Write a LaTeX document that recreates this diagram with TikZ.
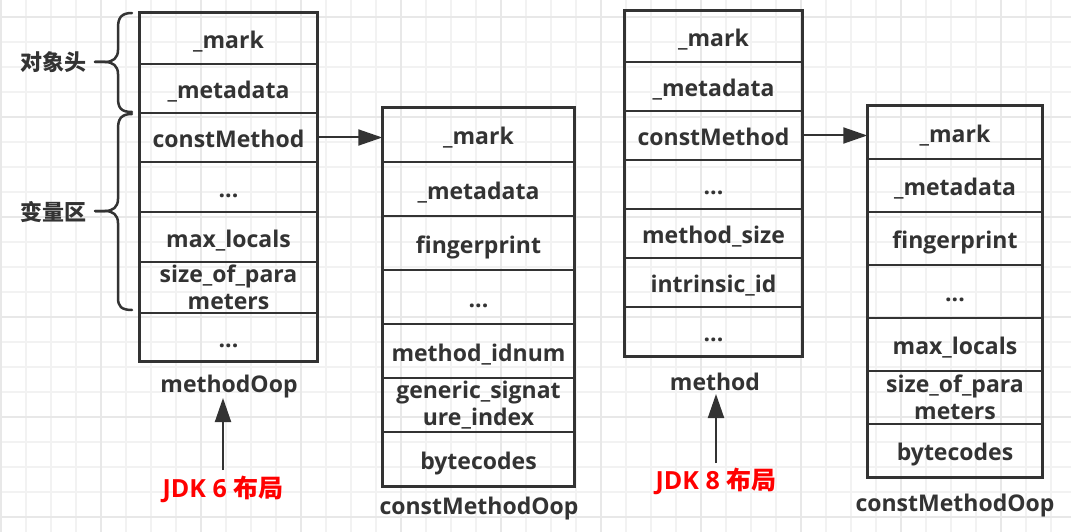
\documentclass[tikz,border=0pt]{standalone}
\usepackage{fontspec}
\setmainfont{Open Sans}
\newfontfamily\cjk{Noto Sans CJK SC}
\usetikzlibrary{arrows.meta}
\definecolor{ink}{HTML}{333333}
\definecolor{gridminor}{HTML}{F2F2F2}
\definecolor{gridmajor}{HTML}{E8E8E8}
\definecolor{jdkred}{HTML}{FF0000}
\newcommand\mkcell[6]{\node[cell, minimum width=#4pt, minimum height=#5pt] (#1) at (#2,#3) {#6};}
\newcommand\mkcellii[6]{\node[cellii, minimum width=#4pt, minimum height=#5pt] (#1) at (#2,#3) {#6};}
\begin{document}
\begin{tikzpicture}[x=1pt,y=-1pt,
  txt/.style={font=\bfseries\fontsize{23}{27}\selectfont, text=ink},
  cellii/.style={txt, draw=ink, line width=1.5pt, inner sep=0pt, align=center},
  cell/.style={cellii, text height=22pt, text depth=2pt},
  outer/.style={draw=ink, line width=2.8pt},
  lbl/.style={txt, inner sep=0pt, text height=22pt, text depth=2pt},
  jdk/.style={font=\bfseries\fontsize{25}{28}\selectfont, text=jdkred, inner sep=0pt},
  cjklbl/.style={font=\cjk\bfseries\fontsize{22}{26}\selectfont, text=ink, inner sep=0pt},
  arr/.style={draw=ink, line width=2pt, -{Triangle[length=24pt,width=16pt]}},
  brace/.style={draw=ink, line width=2.5pt, line cap=round, line join=round},
]
\useasboundingbox (0,0) rectangle (1071,532);
\fill[white] (0,0) rectangle (1071,532);
% grid
\foreach \x in {1,26,...,1051} \draw[gridminor, line width=1.3pt] (\x,0) -- (\x,532);
\foreach \y in {17,42,...,517} \draw[gridminor, line width=1.3pt] (0,\y) -- (1071,\y);
\foreach \x in {1,101,...,1001} \draw[gridmajor, line width=1.3pt] (\x,0) -- (\x,532);
\foreach \y in {17,117,...,517} \draw[gridmajor, line width=1.3pt] (0,\y) -- (1071,\y);

% box 1 : methodOop (JDK 6)
\mkcell{a1}{228.5}{38.5}{177}{51}{\_mark}
\mkcell{a2}{228.5}{88.5}{177}{49}{\_metadata}
\mkcell{a3}{228.5}{137.5}{177}{49}{constMethod}
\mkcell{a4}{228.5}{187}{177}{50}{...}
\mkcell{a5}{228.5}{237}{177}{50}{max\_locals}
\mkcellii{a6}{228.5}{287.5}{177}{51}{size\_of\_para\\meters}
\mkcell{a7}{228.5}{337}{177}{48}{...}
\draw[outer] (a1.north west) rectangle (a7.south east);

% box 2 : constMethodOop (JDK 6)
\mkcell{b1}{478.5}{135}{191}{54}{\_mark}
\mkcell{b2}{478.5}{189}{191}{54}{\_metadata}
\mkcell{b3}{478.5}{243}{191}{54}{fingerprint}
\mkcell{b4}{478.5}{297}{191}{54}{...}
\mkcell{b5}{478.5}{351}{191}{54}{method\_idnum}
\mkcellii{b6}{478.5}{405}{191}{54}{generic\_signat\\ure\_index}
\mkcell{b7}{478.5}{459}{191}{54}{bytecodes}
\draw[outer] (b1.north west) rectangle (b7.south east);

% box 3 : method (JDK 8)
\mkcell{c1}{713.5}{36.5}{177}{51}{\_mark}
\mkcell{c2}{713.5}{86.5}{177}{49}{\_metadata}
\mkcell{c3}{713.5}{135.5}{177}{49}{constMethod}
\mkcell{c4}{713.5}{184.5}{177}{49}{...}
\mkcell{c5}{713.5}{233.5}{177}{49}{method\_size}
\mkcell{c6}{713.5}{282.5}{177}{49}{intrinsic\_id}
\mkcell{c7}{713.5}{331.5}{177}{49}{...}
\draw[outer] (c1.north west) rectangle (c7.south east);

% box 4 : constMethodOop (JDK 8)
\mkcell{d1}{955}{132.5}{174}{53}{\_mark}
\mkcell{d2}{955}{185.5}{174}{53}{\_metadata}
\mkcell{d3}{955}{238.5}{174}{53}{fingerprint}
\mkcell{d4}{955}{291.5}{174}{53}{...}
\mkcell{d5}{955}{344.5}{174}{53}{max\_locals}
\mkcellii{d6}{955}{397.5}{174}{53}{size\_of\_para\\meters}
\mkcell{d7}{955}{450.5}{174}{53}{bytecodes}
\draw[outer] (d1.north west) rectangle (d7.south east);

% captions
\node[lbl] (la) at (229,382) {methodOop};
\node[lbl] (lb) at (479,504) {constMethodOop};
\node[lbl] (lc) at (715,380) {method};
\node[lbl] (ld) at (955,501) {constMethodOop};
\node[jdk] (j6) at (223,489) {JDK 6 {\cjk 布局}};
\node[jdk] (j8) at (716,481) {JDK 8 {\cjk 布局}};

% brace labels
\node[cjklbl] (h1) at (53,62) {对象头};
\node[cjklbl] (h2) at (53,212) {变量区};

% braces
\draw[brace] (132,13) .. controls (121,13) and (118,18) .. (118,28) -- (118,50)
  .. controls (118,58) and (113,62) .. (105,62) -- (95,62);
\draw[brace] (95,62) -- (105,62) .. controls (113,62) and (118,66) .. (118,74) -- (118,98)
  .. controls (118,108) and (121,112) .. (132,112);
\draw[brace] (132,114) .. controls (121,114) and (118,119) .. (118,129) -- (118,199)
  .. controls (118,207) and (113,211) .. (105,211) -- (95,211);
\draw[brace] (95,211) -- (105,211) .. controls (113,211) and (118,215) .. (118,223) -- (118,298)
  .. controls (118,306) and (121,310) .. (132,310);

% connectors
\draw[arr] (a3.east) -- (a3.east -| b1.west);
\draw[arr] (c3.east) -- (c3.east -| d1.west);
\draw[arr, shorten <=19pt, shorten >=16pt] (j6.center) -- (j6.center |- la.center);
\draw[arr, shorten <=18pt, shorten >=14pt] (j8.center) -- (j8.center |- lc.center);
\end{tikzpicture}
\end{document}
